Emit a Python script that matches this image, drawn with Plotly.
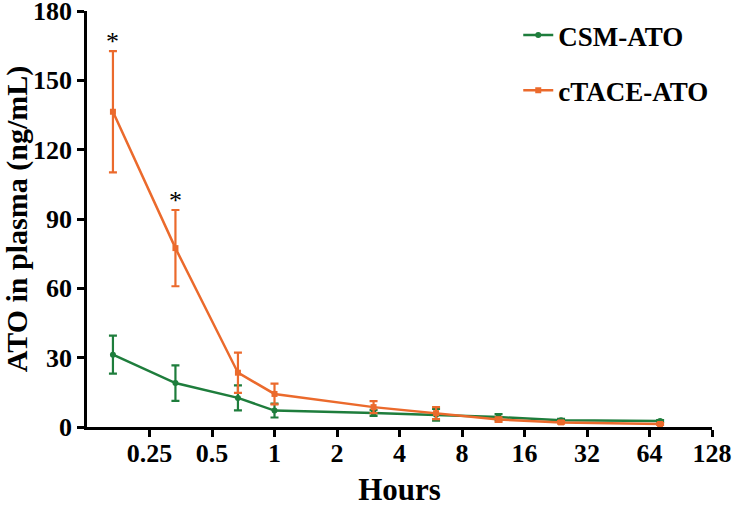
import plotly.graph_objects as go
import math

hours = [1/6, 1/3, 2/3, 1, 3, 6, 12, 24, 72]
csm_mean = [31.3, 19.0, 12.6, 7.1, 6.1, 5.3, 4.3, 2.9, 2.6]
csm_err = [8.2, 7.7, 5.4, 3.0, 1.3, 2.5, 1.3, 0.6, 0.4]
tace_mean = [136.4, 77.4, 23.5, 14.3, 8.6, 6.0, 3.2, 2.0, 1.3]
tace_err = [26.2, 16.5, 8.7, 4.5, 2.6, 2.6, 1.0, 0.6, 0.4]
x_ticks = [0.25, 0.5, 1, 2, 4, 8, 16, 32, 64, 128]
x_ticktext = ["0.25", "0.5", "1", "2", "4", "8", "16", "32", "64", "128"]
y_ticks = [0, 30, 60, 90, 120, 150, 180]
sig_idx = [0, 1]

GREEN = "#1E7D3C"
ORANGE = "#EB6A2C"
FONT = "Liberation Serif"

fig = go.Figure()
fig.add_trace(go.Scatter(
    x=hours, y=csm_mean, name="CSM-ATO", mode="lines+markers",
    line=dict(color=GREEN, width=2.5),
    marker=dict(symbol="circle", size=6, color=GREEN),
    error_y=dict(type="data", array=csm_err, visible=True, color=GREEN, thickness=2.2, width=4),
    legendgroup="a",
))
fig.add_trace(go.Scatter(
    x=hours, y=tace_mean, name="cTACE-ATO", mode="lines+markers",
    line=dict(color=ORANGE, width=2.5),
    marker=dict(symbol="square", size=6, color=ORANGE),
    error_y=dict(type="data", array=tace_err, visible=True, color=ORANGE, thickness=2.2, width=4),
    legendgroup="b",
))

for i in sig_idx:
    fig.add_annotation(
        x=math.log10(hours[i]), y=tace_mean[i] + tace_err[i],
        text="*", showarrow=False, yanchor="bottom", yshift=-7,
        font=dict(family=FONT, size=26, color="black"),
    )

fig.update_layout(
    width=735, height=507, autosize=False,
    paper_bgcolor="white", plot_bgcolor="white",
    margin=dict(l=87, r=23, t=11, b=80, autoexpand=False),
    font=dict(family=FONT, color="black"),
    showlegend=True,
    legend=dict(
        x=0.69, y=1.0, xanchor="left", yanchor="top",
        font=dict(family=FONT, size=27, color="black", weight="bold"),
        tracegroupgap=17, bgcolor="rgba(0,0,0,0)",
    ),
)
fig.update_xaxes(
    type="log", range=[math.log10(0.125), math.log10(128)],
    tickvals=x_ticks, ticktext=x_ticktext,
    showline=True, linecolor="black", linewidth=2.5,
    ticks="outside", ticklen=7, tickwidth=2.5, tickcolor="black",
    showgrid=False, zeroline=False, automargin=False,
    ticklabeloverflow="allow", ticklabelstandoff=-6,
    tickfont=dict(family=FONT, size=26, color="black", weight="bold"),
    title=dict(text="Hours", font=dict(family=FONT, size=31, color="black", weight="bold"), standoff=18),
)
fig.update_yaxes(
    range=[0, 180], tickvals=y_ticks,
    showline=True, linecolor="black", linewidth=2.5,
    ticks="outside", ticklen=7, tickwidth=2.5, tickcolor="black",
    showgrid=False, zeroline=False, automargin=False,
    ticklabeloverflow="allow",
    tickfont=dict(family=FONT, size=26, color="black", weight="bold"),
    title=dict(text="ATO in plasma (ng/mL)", font=dict(family=FONT, size=30, color="black", weight="bold"), standoff=17),
)

fig.write_html("out.html", config={"displayModeBar": False},
               post_script="document.body.style.margin='0';")
